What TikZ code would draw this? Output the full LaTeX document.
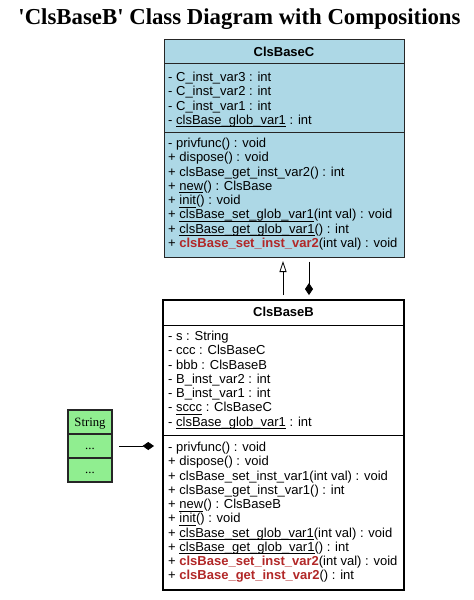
\documentclass[tikz,border=0pt]{standalone}
\usepackage{fontspec}
\setmainfont{Liberation Sans}
\newfontfamily\tnr{Liberation Serif}
\usetikzlibrary{arrows.meta}
\definecolor{cblue}{HTML}{ADD8E6}
\definecolor{cgreen}{HTML}{90EE90}
\definecolor{cred}{RGB}{178,40,40}
\newcommand\myul[1]{\sbox0{#1}\rlap{\rule[-2.8pt]{\wd0}{0.7pt}}\usebox0}
\newcommand\rb[1]{\textcolor{cred}{\textbf{#1}}}
\tikzset{
  box/.style={draw, anchor=north west, inner sep=0pt, outer sep=0pt},
  cbox/.style={box, fill=cblue, draw=black!85, line width=0.9pt},
  bbox/.style={box, fill=white, draw=black, line width=2pt},
  sbox/.style={box, fill=cgreen, draw=black!85, line width=1.1pt},
  txt/.style={anchor=base west, inner sep=0pt, font=\fontsize{13}{14}\selectfont},
  ttl/.style={anchor=base, inner sep=0pt, font=\fontsize{13}{14}\selectfont\bfseries},
  sep/.style={draw=black!85, line width=0.9pt},
  conn/.style={draw=black, line width=0.8pt},
}
\begin{document}
\begin{tikzpicture}[x=1pt,y=-1pt]
\useasboundingbox (0,0) rectangle (474,600);
% title
\node[anchor=base, inner sep=0pt, font=\tnr\fontsize{22.8}{26}\selectfont\bfseries] (title) at (239.5,24) {'ClsBaseB' Class Diagram with Compositions};

% ClsBaseC
\node[cbox, minimum width=240pt, minimum height=218pt] (C) at (164,39) {};
\draw[sep] (C.west |- 0,63) -- (C.east |- 0,63);
\draw[sep] (C.west |- 0,132) -- (C.east |- 0,132);
\node[ttl] (Ct) at (284,56) {ClsBaseC};
\node[txt] (Ca1) at (168,81.5) {- C\_inst\_var3 : int};
\node[txt] (Ca2) at (168,95.75) {- C\_inst\_var2 : int};
\node[txt] (Ca3) at (168,110) {- C\_inst\_var1 : int};
\node[txt] (Ca4) at (168,124.25) {- \myul{clsBase\_glob\_var1} : int};
\node[txt] (Cm1) at (168,147.5) {- privfunc() : void};
\node[txt] (Cm2) at (168,161.75) {+ dispose() : void};
\node[txt] (Cm3) at (168,176) {+ clsBase\_get\_inst\_var2() : int};
\node[txt] (Cm4) at (168,190.25) {+ \myul{new}() : ClsBase};
\node[txt] (Cm5) at (168,204.5) {+ \myul{init}() : void};
\node[txt] (Cm6) at (168,218.75) {+ \myul{clsBase\_set\_glob\_var1}(int val) : void};
\node[txt] (Cm7) at (168,233) {+ \myul{clsBase\_get\_glob\_var1}() : int};
\node[txt] (Cm8) at (168,247.25) {+ \rb{clsBase\_set\_inst\_var2}(int val) : void};

% ClsBaseB
\node[bbox, minimum width=241pt, minimum height=290pt] (B) at (163,300) {};
\draw[sep, draw=black] (B.west |- 0,325) -- (B.east |- 0,325);
\draw[sep, draw=black] (B.west |- 0,435.5) -- (B.east |- 0,435.5);
\node[ttl] (Bt) at (283.5,316) {ClsBaseB};
\node[txt] (Ba1) at (168,340.7) {- s : String};
\node[txt] (Ba2) at (168,354.95) {- ccc : ClsBaseC};
\node[txt] (Ba3) at (168,369.2) {- bbb : ClsBaseB};
\node[txt] (Ba4) at (168,383.45) {- B\_inst\_var2 : int};
\node[txt] (Ba5) at (168,397.7) {- B\_inst\_var1 : int};
\node[txt] (Ba6) at (168,411.95) {- \myul{sccc} : ClsBaseC};
\node[txt] (Ba7) at (168,426.2) {- \myul{clsBase\_glob\_var1} : int};
\node[txt] (Bm1) at (168,451.5) {- privfunc() : void};
\node[txt] (Bm2) at (168,465.75) {+ dispose() : void};
\node[txt] (Bm3) at (168,480) {+ clsBase\_set\_inst\_var1(int val) : void};
\node[txt] (Bm4) at (168,494.25) {+ clsBase\_get\_inst\_var1() : int};
\node[txt] (Bm5) at (168,508.5) {+ \myul{new}() : ClsBaseB};
\node[txt] (Bm6) at (168,522.75) {+ \myul{init}() : void};
\node[txt] (Bm7) at (168,537) {+ \myul{clsBase\_set\_glob\_var1}(int val) : void};
\node[txt] (Bm8) at (168,551.25) {+ \myul{clsBase\_get\_glob\_var1}() : int};
\node[txt] (Bm9) at (168,565.5) {+ \rb{clsBase\_set\_inst\_var2}(int val) : void};
\node[txt] (Bm10) at (168,579.75) {+ \rb{clsBase\_get\_inst\_var2}() : int};

% String
\node[sbox, minimum width=44pt, minimum height=72pt] (S) at (68,410) {};
\draw[sep, line width=1.1pt] (S.west |- 0,434) -- (S.east |- 0,434);
\draw[sep, line width=1.1pt] (S.west |- 0,458) -- (S.east |- 0,458);
\node[anchor=base, inner sep=0pt, font=\tnr\fontsize{12.7}{14}\selectfont] (St) at (90,426) {String};
\node[anchor=base, inner sep=0pt, font=\tnr\fontsize{12.7}{14}\selectfont] (Sd1) at (90,449) {...};
\node[anchor=base, inner sep=0pt, font=\tnr\fontsize{12.7}{14}\selectfont] (Sd2) at (90,473) {...};

% connectors
\draw[conn, -{Triangle[open, length=11pt, width=7pt]}, shorten <=5pt, shorten >=4pt]
  ([xshift=120pt]B.north west) -- ([xshift=120pt]B.north west |- C.south);
\draw[conn, -{Diamond[length=12pt, width=8pt]}, shorten <=4.5pt, shorten >=5pt]
  ([xshift=146pt]B.north west |- C.south) -- ([xshift=146pt]B.north west);
\draw[conn, -{Diamond[length=11.5pt, width=8pt]}, shorten <=7pt, shorten >=9pt]
  (S.east |- 0,446) -- (B.west |- 0,446);
\end{tikzpicture}
\end{document}
